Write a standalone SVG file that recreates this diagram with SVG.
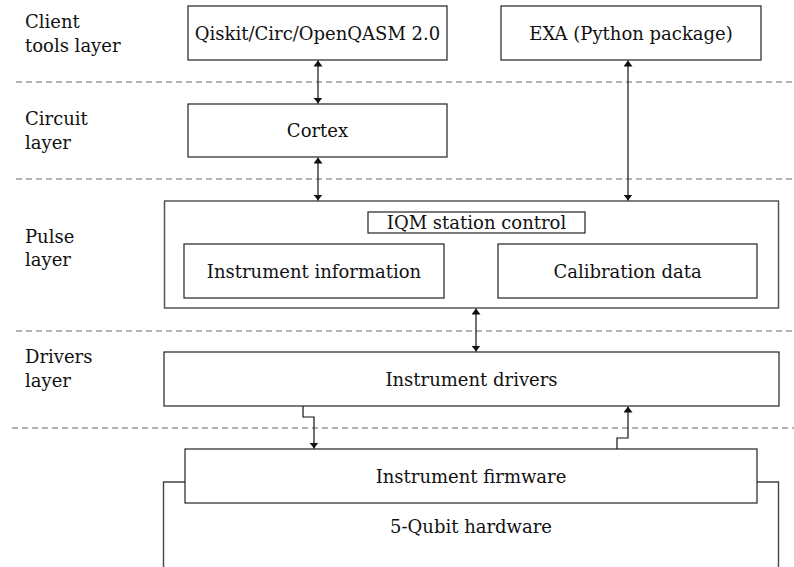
<svg xmlns="http://www.w3.org/2000/svg" width="794" height="567" viewBox="0 0 794 567">
<style>
  .box{fill:#fff;stroke:#222;stroke-width:1.2}
  .outer{fill:#fff;stroke:#555;stroke-width:1.5}
  .t{font-family:'DejaVu Serif','Liberation Serif',serif;font-size:18px;fill:#111}
  .c{text-anchor:middle}
  .sep{stroke:#666;stroke-width:1;stroke-dasharray:6 4;fill:none}
  .ln{stroke:#111;stroke-width:1.2;fill:none}
</style>
<defs>
  <marker id="ah" viewBox="0 0 10 10" refX="10" refY="5" markerWidth="6" markerHeight="9" markerUnits="userSpaceOnUse" orient="auto-start-reverse" preserveAspectRatio="none">
    <path d="M0,0 L10,5 L0,10 z" fill="#111"/>
  </marker>
</defs>
<rect width="794" height="567" fill="#fff"/>

<g id="layer-labels">
  <text class="t" x="25" y="28">Client</text>
  <text class="t" x="25" y="52">tools layer</text>
  <text class="t" x="25" y="125">Circuit</text>
  <text class="t" x="25" y="149">layer</text>
  <text class="t" x="25" y="243">Pulse</text>
  <text class="t" x="25" y="266">layer</text>
  <text class="t" x="25" y="363">Drivers</text>
  <text class="t" x="25" y="387">layer</text>
</g>

<g id="separators">
  <line class="sep" x1="16" y1="82" x2="794" y2="82"/>
  <line class="sep" x1="16" y1="179" x2="794" y2="179"/>
  <line class="sep" x1="16" y1="331" x2="794" y2="331"/>
  <line class="sep" x1="12" y1="428" x2="794" y2="428"/>
</g>

<g id="qiskit">
  <rect class="box" x="188" y="6" width="259" height="54"/>
  <text class="t c" x="317.5" y="40">Qiskit/Circ/OpenQASM 2.0</text>
</g>
<g id="exa">
  <rect class="box" x="501" y="6" width="260" height="54"/>
  <text class="t c" x="631" y="40">EXA (Python package)</text>
</g>
<g id="cortex">
  <rect class="box" x="188" y="104" width="259" height="53"/>
  <text class="t c" x="317.5" y="137">Cortex</text>
</g>
<g id="pulse">
  <rect class="outer" x="164.5" y="201" width="614" height="107"/>
</g>
<g id="iqm-station-control">
  <rect class="box" x="368" y="212" width="217" height="21"/>
  <text class="t c" x="476.5" y="229">IQM station control</text>
</g>
<g id="instrument-information">
  <rect class="box" x="184" y="244" width="260" height="54"/>
  <text class="t c" x="314" y="278">Instrument information</text>
</g>
<g id="calibration-data">
  <rect class="box" x="498" y="244" width="259" height="54"/>
  <text class="t c" x="627.5" y="278">Calibration data</text>
</g>
<g id="instrument-drivers">
  <rect class="box" x="164" y="352" width="615" height="54"/>
  <text class="t c" x="471.5" y="386">Instrument drivers</text>
</g>
<g id="hardware">
  <path d="M163.5,567 V482 H778.5 V567" fill="#fff" stroke="#444" stroke-width="1.4"/>
  <text class="t c" x="471" y="533">5-Qubit hardware</text>
</g>
<g id="instrument-firmware">
  <rect class="box" x="185" y="449" width="572" height="54"/>
  <text class="t c" x="471" y="483">Instrument firmware</text>
</g>

<g id="connectors">
  <line class="ln" x1="318" y1="60.5" x2="318" y2="103.5" marker-start="url(#ah)" marker-end="url(#ah)"/>
  <line class="ln" x1="318" y1="157.5" x2="318" y2="200.5" marker-start="url(#ah)" marker-end="url(#ah)"/>
  <line class="ln" x1="628" y1="60.5" x2="628" y2="200.5" marker-start="url(#ah)" marker-end="url(#ah)"/>
  <line class="ln" x1="476" y1="308.5" x2="476" y2="351.5" marker-start="url(#ah)" marker-end="url(#ah)"/>
  <path class="ln" d="M303,406 V417 H314 V448.5" marker-end="url(#ah)"/>
  <path class="ln" d="M617,449 V438 H628 V406.5" marker-end="url(#ah)"/>
</g>
</svg>
